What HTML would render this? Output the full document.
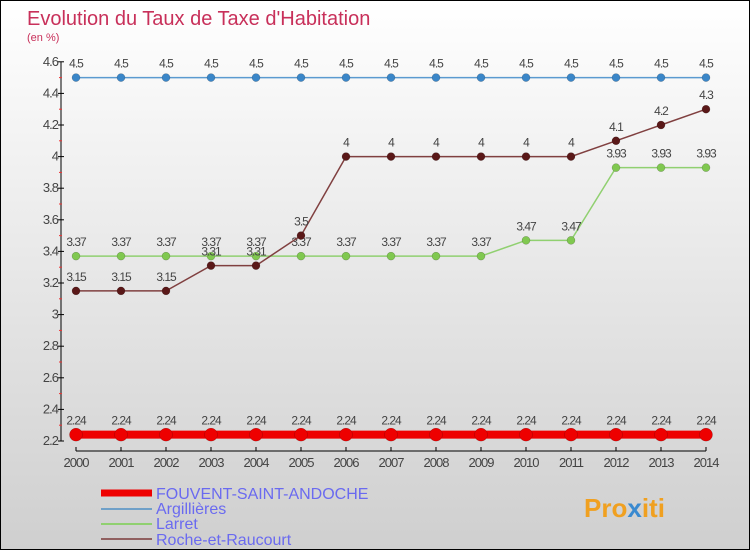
<!DOCTYPE html>
<html><head><meta charset="utf-8"><style>
body{margin:0}
#c{width:750px;height:550px;position:relative;box-sizing:border-box;border:1px solid #000;background:linear-gradient(#ffffff,#cfcfcf);font-family:"Liberation Sans",sans-serif;overflow:hidden}
</style></head><body>
<div id="c">
<svg id="s" width="748" height="548" style="position:absolute;left:0;top:0" font-family="Liberation Sans, sans-serif">
<text x="26" y="24" font-size="20" fill="#c8305a">Evolution du Taux de Taxe d'Habitation</text>
<text x="26" y="40" font-size="11" fill="#c8305a">(en %)</text>
<g id="g"></g>
<g>
<line x1="100" y1="492" x2="151" y2="492" stroke="#e00" stroke-width="7"/>
<text x="155" y="498" font-size="16" fill="#6a6af0">FOUVENT-SAINT-ANDOCHE</text>
<line x1="100" y1="508" x2="151" y2="508" stroke="#6fa0c8" stroke-width="2"/>
<text x="155" y="513" font-size="16" fill="#6a6af0">Argillières</text>
<line x1="100" y1="523" x2="151" y2="523" stroke="#90d070" stroke-width="2"/>
<text x="155" y="528" font-size="16" fill="#6a6af0">Larret</text>
<line x1="100" y1="538" x2="151" y2="538" stroke="#906060" stroke-width="2"/>
<text x="155" y="544" font-size="16" fill="#6a6af0">Roche-et-Raucourt</text>
</g>
<text x="583" y="516" font-size="26" font-weight="bold" fill="#f0a020">Pro<tspan fill="#3a8ad0">x</tspan>iti</text>
</svg>
</div>
<script>
const years=[2000,2001,2002,2003,2004,2005,2006,2007,2008,2009,2010,2011,2012,2013,2014];
const fouvent=[2.24,2.24,2.24,2.24,2.24,2.24,2.24,2.24,2.24,2.24,2.24,2.24,2.24,2.24,2.24];
const argillieres=[4.5,4.5,4.5,4.5,4.5,4.5,4.5,4.5,4.5,4.5,4.5,4.5,4.5,4.5,4.5];
const larret=[3.37,3.37,3.37,3.37,3.37,3.37,3.37,3.37,3.37,3.37,3.47,3.47,3.93,3.93,3.93];
const roche=[3.15,3.15,3.15,3.31,3.31,3.5,4,4,4,4,4,4,4.1,4.2,4.3];
const yTicks=[2.2,2.4,2.6,2.8,3,3.2,3.4,3.6,3.8,4,4.2,4.4,4.6];
const NS="http://www.w3.org/2000/svg";
const g=document.getElementById('g');
const x=i=>75+i*45;
const y=v=>440-(v-2.2)*158;
function mk(t,a,p){const e=document.createElementNS(NS,t);for(const k in a)e.setAttribute(k,a[k]);(p||g).appendChild(e);return e;}
const ax=mk('g',{});


mk('line',{x1:60,y1:61,x2:60,y2:440,stroke:'#000'},ax);
mk('line',{x1:75,y1:450,x2:705,y2:450,stroke:'#000'},ax);
yTicks.forEach((v,i)=>{
  mk('line',{x1:57,y1:y(v),x2:63,y2:y(v),stroke:'#000'},ax);
  if(i<yTicks.length-1)mk('line',{x1:58,y1:y(v+0.1),x2:61,y2:y(v+0.1),stroke:'#e33'},ax);
  const t=mk('text',{x:57,y:y(v)+4,'font-size':13,fill:'#444','text-anchor':'end','letter-spacing':'-1'},ax);
  t.textContent=String(v);
  
  
});
years.forEach((yr,i)=>{
  mk('line',{x1:x(i),y1:446,x2:x(i),y2:450,stroke:'#000'},ax);
  const t=mk('text',{x:x(i),y:466,'font-size':13,fill:'#444','text-anchor':'middle','letter-spacing':'-1'},ax);
  t.textContent=yr;
  
  
});
function series(name,vals,color,w,r,dot){
  const s=mk('g',{});
  
  
  mk('polyline',{points:vals.map((v,i)=>x(i)+','+y(v)).join(' '),fill:'none',stroke:color,'stroke-width':w},s);
  vals.forEach((v,i)=>{
    const c=mk('circle',{cx:x(i),cy:y(v),r:r,fill:dot,stroke:'rgba(0,0,0,0.3)','stroke-width':0.5},s);
    
    
    const t=mk('text',{x:x(i),y:y(v)-10,'font-size':12,fill:'#444','text-anchor':'middle','letter-spacing':'-1'},s);
    t.textContent=String(v);
  });
}
series('fouvent-series',fouvent,'#e00',8,6.5,'#e00');
series('argillieres-series',argillieres,'#5a9ad0',1.5,4,'#3a86c8');
series('larret-series',larret,'#90d070',1.5,4,'#80c850');
series('roche-series',roche,'#804040',1.5,4,'#5a1818');
</script>
</body></html>
